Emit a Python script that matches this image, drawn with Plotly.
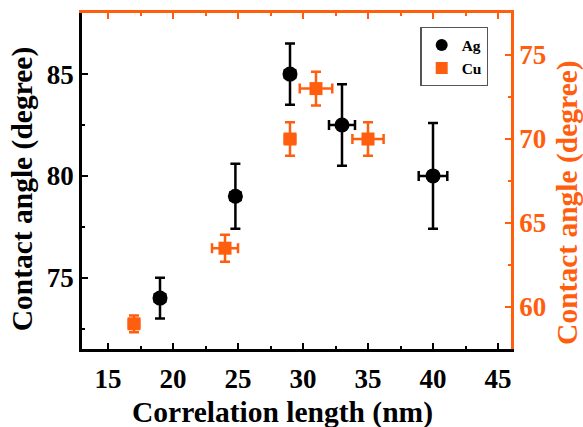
import plotly.graph_objects as go

# Silver (left axis)
ag_x = [19, 24.8, 29, 33, 40]
ag_y = [74, 79, 85, 82.5, 80]
ag_yerr = [1.0, 1.6, 1.5, 2.0, 2.6]
ag_xerr = [0.4, 0.4, 0.4, 1.0, 1.1]

# Copper (right axis)
cu_x = [17, 24, 29, 31, 35]
cu_y = [59, 63.5, 70, 73, 70]
cu_yerr = [0.5, 0.8, 1.0, 1.0, 1.0]
cu_xerr = [0.4, 1.0, 0.4, 1.25, 1.2]

# Tick positions and labels
x_ticks = [15, 20, 25, 30, 35, 40, 45]
y_left_ticks = [75, 80, 85]
y_right_ticks = [60, 65, 70, 75]

ORANGE = "#FF5E0E"
FONT = "Liberation Serif"


def bold(vals):
    return [f"<b>{v}</b>" for v in vals]


fig = go.Figure()

fig.add_trace(go.Scatter(
    x=ag_x, y=ag_y, mode="markers", name="<b>Ag</b>",
    marker=dict(symbol="circle", size=15, color="black"),
    error_y=dict(type="data", array=ag_yerr, color="black", thickness=2.5, width=5),
    error_x=dict(type="data", array=ag_xerr, color="black", thickness=2.5, width=5),
    xaxis="x", yaxis="y",
))

fig.add_trace(go.Scatter(
    x=cu_x, y=cu_y, mode="markers", name="<b>Cu</b>",
    marker=dict(symbol="square", size=13, color=ORANGE),
    error_y=dict(type="data", array=cu_yerr, color=ORANGE, thickness=2.5, width=5),
    error_x=dict(type="data", array=cu_xerr, color=ORANGE, thickness=2.5, width=5),
    xaxis="x2", yaxis="y2",
))

tick_font = dict(family=FONT, size=27, color="black")
title_font = dict(family=FONT, size=29.5, color="black")

# Axis titles placed as annotations (paper coordinates)
fig.add_annotation(text="<b>Correlation length (nm)</b>", xref="paper", yref="paper",
                   x=0.467, y=-0.19, xanchor="center", yanchor="middle",
                   showarrow=False, font=title_font)
fig.add_annotation(text="<b>Contact angle (degree)</b>", xref="paper", yref="paper",
                   x=-0.14, y=0.478, xanchor="center", yanchor="middle", textangle=-90,
                   showarrow=False, font=title_font)
fig.add_annotation(text="<b>Contact angle (degree)</b>", xref="paper", yref="paper",
                   x=1.133, y=0.435, xanchor="center", yanchor="middle", textangle=-90,
                   showarrow=False, font=dict(family=FONT, size=29.5, color=ORANGE))

fig.update_layout(
    width=583, height=427,
    margin=dict(l=82, r=72, t=13, b=78),
    plot_bgcolor="white", paper_bgcolor="white",
    showlegend=True,
    legend=dict(
        x=0.789, y=0.958, xanchor="left", yanchor="top",
        bgcolor="white", bordercolor="#555555", borderwidth=1.2,
        font=dict(family=FONT, size=15.5, color="black"),
        itemsizing="constant", tracegroupgap=0,
    ),
    xaxis=dict(
        range=[13, 46], tickmode="array", tickvals=x_ticks, ticktext=bold(x_ticks),
        ticks="inside", ticklen=6, tickwidth=2, tickcolor="black",
        minor=dict(ticks="inside", ticklen=3, tickwidth=2, tickcolor="black",
                   tickmode="linear", tick0=17.5, dtick=5),
        showline=True, linecolor="black", linewidth=2.5, mirror=False,
        showgrid=False, zeroline=False,
        tickfont=tick_font, ticklabelstandoff=4,
    ),
    xaxis2=dict(
        range=[13, 46], overlaying="x", side="top", matches="x",
        tickmode="array", tickvals=x_ticks,
        ticks="inside", ticklen=6, tickwidth=2, tickcolor=ORANGE,
        minor=dict(ticks="inside", ticklen=3, tickwidth=2, tickcolor=ORANGE,
                   tickmode="linear", tick0=17.5, dtick=5),
        showline=True, linecolor=ORANGE, linewidth=2.5,
        showticklabels=False, showgrid=False, zeroline=False,
    ),
    yaxis=dict(
        range=[71.5, 88], tickmode="array", tickvals=y_left_ticks,
        ticktext=bold(y_left_ticks),
        ticks="inside", ticklen=6, tickwidth=2, tickcolor="black",
        minor=dict(ticks="inside", ticklen=3, tickwidth=2, tickcolor="black",
                   tickmode="array", tickvals=[72.5, 77.5, 82.5]),
        showline=True, linecolor="black", linewidth=2.5,
        showgrid=False, zeroline=False,
        tickfont=tick_font,
    ),
    yaxis2=dict(
        range=[57.5, 77.5], overlaying="y", side="right",
        tickmode="array", tickvals=y_right_ticks, ticktext=bold(y_right_ticks),
        ticks="inside", ticklen=6, tickwidth=2, tickcolor=ORANGE,
        minor=dict(ticks="inside", ticklen=3, tickwidth=2, tickcolor=ORANGE,
                   tickmode="linear", tick0=57.5, dtick=5),
        showline=True, linecolor=ORANGE, linewidth=2.5,
        showgrid=False, zeroline=False,
        tickfont=dict(family=FONT, size=27, color=ORANGE),
    ),
)

fig.write_html("out.html")
